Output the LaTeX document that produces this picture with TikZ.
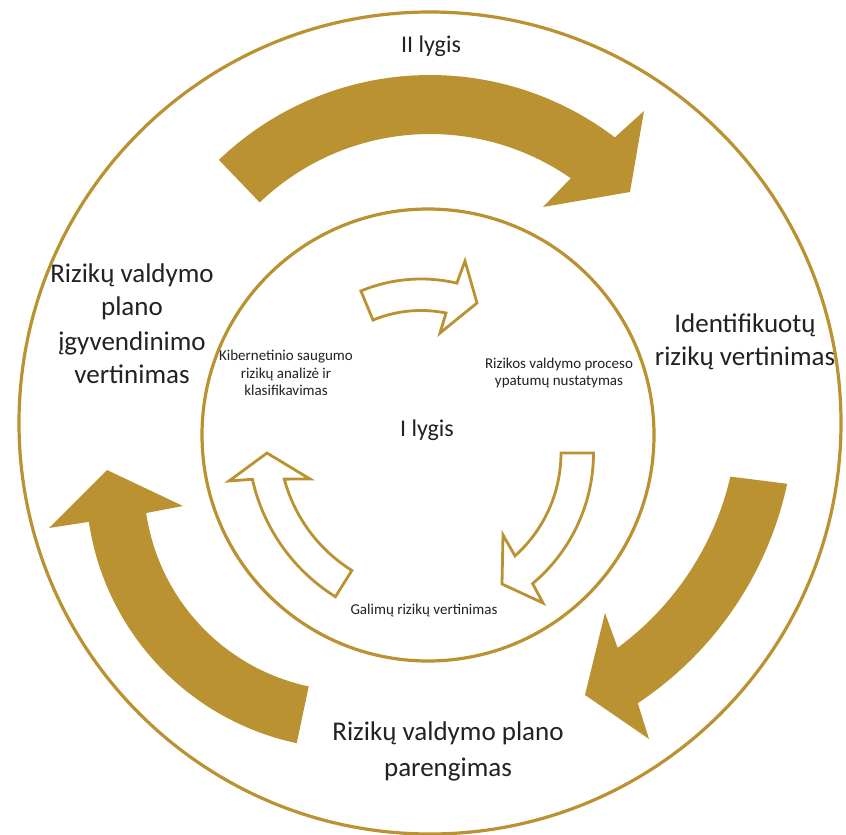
\documentclass[tikz,border=0pt]{standalone}
\usepackage{fontspec}
\setmainfont{Carlito}
\definecolor{gold}{RGB}{187,146,49}
\definecolor{ink}{RGB}{33,33,38}
\tikzset{
  ring/.style={circle, draw=gold, line width=3.2pt, inner sep=0pt},
  bigarrow/.style={fill=gold, draw=none},
  smallarrow/.style={draw=gold, fill=white, line width=2.8pt, line join=miter},
  biglabel/.style={text=ink, font=\fontsize{27}{33}\selectfont, anchor=base, inner sep=0pt},
  smalllabel/.style={text=ink, font=\fontsize{15}{18}\selectfont, anchor=base, inner sep=0pt},
  levellabel/.style={text=ink, font=\fontsize{24}{28}\selectfont, anchor=base, inner sep=0pt},
}
\begin{document}
\begin{tikzpicture}[x=1pt,y=-1pt]
\useasboundingbox (0,0) rectangle (846,835);
\fill[white] (0,0) rectangle (846,835);

% the two levels
\node[ring, minimum size=822pt] (outerring) at (430,423) {};
\node[ring, minimum size=452pt] (innerring) at (428,435) {};

% outer cycle: three solid curved arrows
\fill[bigarrow]
  plot[domain=-133.8:-52.7, samples=60] ({430+305*cos(\x)},{380+305*sin(\x)})
  -- (644,111) -- (630,192) -- (543,207)
  -- plot[domain=-55.1:-133.8, samples=60] ({430+246*cos(\x)},{380+246*sin(\x)})
  -- cycle;
\fill[bigarrow]
  plot[domain=12.1:56.4, samples=60] ({443+352*cos(\x)},{410+352*sin(\x)})
  -- (649,739) -- (585,695) -- (605,613)
  -- plot[domain=53.7:13.05, samples=60] ({443+295*cos(\x)},{410+295*sin(\x)})
  -- cycle;
\fill[bigarrow]
  plot[domain=102:171.6, samples=60] ({352+266*cos(\x)},{483+266*sin(\x)})
  -- (49,528) -- (107,470) -- (183,506)
  -- plot[domain=171.7:102, samples=60] ({352+208*cos(\x)},{483+208*sin(\x)})
  -- cycle;

% inner cycle: three outlined curved arrows
\draw[smallarrow]
  plot[domain=-112.5:-76.8, samples=40] ({421+157*cos(\x)},{436+157*sin(\x)})
  -- (465,261) -- (477,303) -- (440,333)
  -- plot[domain=-78.5:-112.5, samples=40] ({421+125.5*cos(\x)},{436+125.5*sin(\x)})
  -- cycle;
\draw[smallarrow]
  plot[domain=0:50, samples=40] ({423+170.5*cos(\x)},{453+170.5*sin(\x)})
  -- (543,603) -- (502,584) -- (503,535)
  -- plot[domain=48.2:0, samples=40] ({423+138*cos(\x)},{453+138*sin(\x)})
  -- cycle;
\draw[smallarrow]
  plot[domain=122:167.5, samples=40] ({434+186*cos(\x)},{439+186*sin(\x)})
  -- (229,481) -- (267,453) -- (310,479)
  -- plot[domain=165:122, samples=40] ({434+155*cos(\x)},{439+155*sin(\x)})
  -- cycle;

% level titles
\node[levellabel] (lvltwo) at (431,52) {II lygis};
\node[levellabel] (lvlone) at (427,436) {I lygis};

% outer cycle labels
\node[biglabel] (impl1) at (132,282) {Rizikų valdymo};
\node[biglabel] (impl2) at (132,315) {plano};
\node[biglabel] (impl3) at (132,350) {įgyvendinimo};
\node[biglabel] (impl4) at (132,383) {vertinimas};
\node[biglabel] (ident1) at (745,332) {Identifikuotų};
\node[biglabel] (ident2) at (745,365) {rizikų vertinimas};
\node[biglabel] (prep1) at (448,740) {Rizikų valdymo plano};
\node[biglabel] (prep2) at (448,776) {parengimas};

% inner cycle labels
\node[smalllabel] (cyber1) at (286,360) {Kibernetinio saugumo};
\node[smalllabel] (cyber2) at (286,378) {rizikų analizė ir};
\node[smalllabel] (cyber3) at (286,395) {klasifikavimas};
\node[smalllabel] (proc1) at (559,368) {Rizikos valdymo proceso};
\node[smalllabel] (proc2) at (559,385) {ypatumų nustatymas};
\node[smalllabel] (poss) at (424,614) {Galimų rizikų vertinimas};
\end{tikzpicture}
\end{document}
